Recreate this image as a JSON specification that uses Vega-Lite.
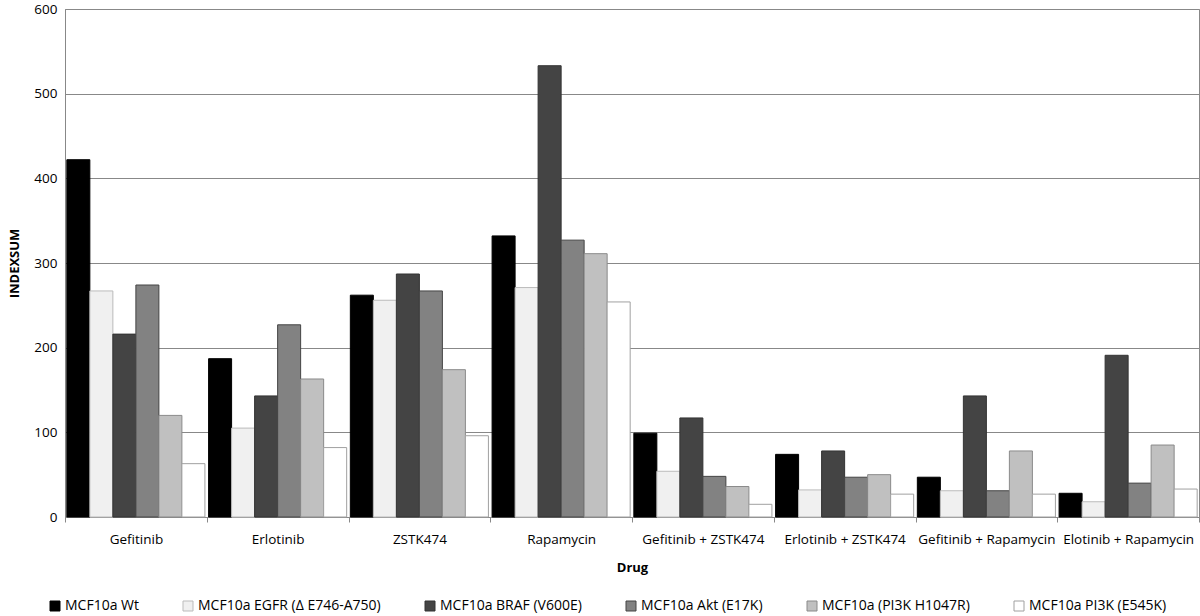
{
  "$schema": "https://vega.github.io/schema/vega-lite/v6.json",
  "width": 1134,
  "height": 508,
  "autosize": {"type": "none"},
  "padding": {"left": 65, "top": 9, "right": 1, "bottom": 99},
  "background": "white",
  "config": {
    "font": "Open Sans",
    "view": {"stroke": "#888888", "strokeWidth": 1}
  },
  "datasets": {
    "vals": [
      {"drug": "Gefitinib", "series": "MCF10a Wt", "value": 422},
      {"drug": "Gefitinib", "series": "MCF10a EGFR (Δ E746-A750)", "value": 267},
      {"drug": "Gefitinib", "series": "MCF10a BRAF (V600E)", "value": 216},
      {"drug": "Gefitinib", "series": "MCF10a Akt (E17K)", "value": 274},
      {"drug": "Gefitinib", "series": "MCF10a (PI3K H1047R)", "value": 120},
      {"drug": "Gefitinib", "series": "MCF10a PI3K (E545K)", "value": 63},
      {"drug": "Erlotinib", "series": "MCF10a Wt", "value": 187},
      {"drug": "Erlotinib", "series": "MCF10a EGFR (Δ E746-A750)", "value": 105},
      {"drug": "Erlotinib", "series": "MCF10a BRAF (V600E)", "value": 143},
      {"drug": "Erlotinib", "series": "MCF10a Akt (E17K)", "value": 227},
      {"drug": "Erlotinib", "series": "MCF10a (PI3K H1047R)", "value": 163},
      {"drug": "Erlotinib", "series": "MCF10a PI3K (E545K)", "value": 82},
      {"drug": "ZSTK474", "series": "MCF10a Wt", "value": 262},
      {"drug": "ZSTK474", "series": "MCF10a EGFR (Δ E746-A750)", "value": 256},
      {"drug": "ZSTK474", "series": "MCF10a BRAF (V600E)", "value": 287},
      {"drug": "ZSTK474", "series": "MCF10a Akt (E17K)", "value": 267},
      {"drug": "ZSTK474", "series": "MCF10a (PI3K H1047R)", "value": 174},
      {"drug": "ZSTK474", "series": "MCF10a PI3K (E545K)", "value": 96},
      {"drug": "Rapamycin", "series": "MCF10a Wt", "value": 332},
      {"drug": "Rapamycin", "series": "MCF10a EGFR (Δ E746-A750)", "value": 271},
      {"drug": "Rapamycin", "series": "MCF10a BRAF (V600E)", "value": 533},
      {"drug": "Rapamycin", "series": "MCF10a Akt (E17K)", "value": 327},
      {"drug": "Rapamycin", "series": "MCF10a (PI3K H1047R)", "value": 311},
      {"drug": "Rapamycin", "series": "MCF10a PI3K (E545K)", "value": 254},
      {"drug": "Gefitinib + ZSTK474", "series": "MCF10a Wt", "value": 99},
      {"drug": "Gefitinib + ZSTK474", "series": "MCF10a EGFR (Δ E746-A750)", "value": 54},
      {"drug": "Gefitinib + ZSTK474", "series": "MCF10a BRAF (V600E)", "value": 117},
      {"drug": "Gefitinib + ZSTK474", "series": "MCF10a Akt (E17K)", "value": 48},
      {"drug": "Gefitinib + ZSTK474", "series": "MCF10a (PI3K H1047R)", "value": 36},
      {"drug": "Gefitinib + ZSTK474", "series": "MCF10a PI3K (E545K)", "value": 15},
      {"drug": "Erlotinib + ZSTK474", "series": "MCF10a Wt", "value": 74},
      {"drug": "Erlotinib + ZSTK474", "series": "MCF10a EGFR (Δ E746-A750)", "value": 32},
      {"drug": "Erlotinib + ZSTK474", "series": "MCF10a BRAF (V600E)", "value": 78},
      {"drug": "Erlotinib + ZSTK474", "series": "MCF10a Akt (E17K)", "value": 47},
      {"drug": "Erlotinib + ZSTK474", "series": "MCF10a (PI3K H1047R)", "value": 50},
      {"drug": "Erlotinib + ZSTK474", "series": "MCF10a PI3K (E545K)", "value": 27},
      {"drug": "Gefitinib + Rapamycin", "series": "MCF10a Wt", "value": 47},
      {"drug": "Gefitinib + Rapamycin", "series": "MCF10a EGFR (Δ E746-A750)", "value": 31},
      {"drug": "Gefitinib + Rapamycin", "series": "MCF10a BRAF (V600E)", "value": 143},
      {"drug": "Gefitinib + Rapamycin", "series": "MCF10a Akt (E17K)", "value": 31},
      {"drug": "Gefitinib + Rapamycin", "series": "MCF10a (PI3K H1047R)", "value": 78},
      {"drug": "Gefitinib + Rapamycin", "series": "MCF10a PI3K (E545K)", "value": 27},
      {"drug": "Elotinib + Rapamycin", "series": "MCF10a Wt", "value": 28},
      {"drug": "Elotinib + Rapamycin", "series": "MCF10a EGFR (Δ E746-A750)", "value": 18},
      {"drug": "Elotinib + Rapamycin", "series": "MCF10a BRAF (V600E)", "value": 191},
      {"drug": "Elotinib + Rapamycin", "series": "MCF10a Akt (E17K)", "value": 40},
      {"drug": "Elotinib + Rapamycin", "series": "MCF10a (PI3K H1047R)", "value": 85},
      {"drug": "Elotinib + Rapamycin", "series": "MCF10a PI3K (E545K)", "value": 33}
    ]
  },
  "data": {"name": "vals"},
  "mark": {"type": "bar", "strokeWidth": 1},
  "encoding": {
    "x": {
      "field": "drug",
      "type": "nominal",
      "sort": ["Gefitinib", "Erlotinib", "ZSTK474", "Rapamycin", "Gefitinib + ZSTK474", "Erlotinib + ZSTK474", "Gefitinib + Rapamycin", "Elotinib + Rapamycin"],
      "scale": {"paddingInner": 0, "paddingOuter": 0},
      "title": "Drug",
      "axis": {
        "labelAngle": 0,
        "tickBand": "extent",
        "labelAlign": "center",
        "labelFontSize": 13.5,
        "labelColor": "#000000",
        "labelPadding": 10,
        "tickColor": "#888888",
        "tickSize": 5,
        "domainColor": "#888888",
        "titleFontSize": 13,
        "titleFontWeight": "bold",
        "titleColor": "#000000",
        "titlePadding": 16
      }
    },
    "xOffset": {
      "field": "series",
      "type": "nominal",
      "sort": ["MCF10a Wt", "MCF10a EGFR (Δ E746-A750)", "MCF10a BRAF (V600E)", "MCF10a Akt (E17K)", "MCF10a (PI3K H1047R)", "MCF10a PI3K (E545K)"],
      "scale": {"paddingInner": 0, "paddingOuter": 0.08}
    },
    "y": {
      "field": "value",
      "type": "quantitative",
      "scale": {"domain": [0, 600], "nice": false},
      "title": "INDEXSUM",
      "axis": {
        "values": [0, 100, 200, 300, 400, 500, 600],
        "grid": true,
        "gridColor": "#888888",
        "gridWidth": 1,
        "domainColor": "#888888",
        "ticks": false,
        "labelFontSize": 13.5,
        "labelColor": "#000000",
        "labelPadding": 8,
        "titleFontSize": 13,
        "titleFontWeight": "bold",
        "titleColor": "#000000",
        "titlePadding": 12
      }
    },
    "fill": {
      "field": "series",
      "type": "nominal",
      "sort": ["MCF10a Wt", "MCF10a EGFR (Δ E746-A750)", "MCF10a BRAF (V600E)", "MCF10a Akt (E17K)", "MCF10a (PI3K H1047R)", "MCF10a PI3K (E545K)"],
      "scale": {
        "domain": ["MCF10a Wt", "MCF10a EGFR (Δ E746-A750)", "MCF10a BRAF (V600E)", "MCF10a Akt (E17K)", "MCF10a (PI3K H1047R)", "MCF10a PI3K (E545K)"],
        "range": ["#000000", "#f0f0f0", "#444444", "#828282", "#c0c0c0", "#ffffff"]
      },
      "legend": {
        "title": null,
        "orient": "none",
        "direction": "horizontal",
        "legendX": -17,
        "legendY": 590,
        "symbolType": "square",
        "symbolSize": 100,
        "symbolStrokeWidth": 1,
        "labelFontSize": 14,
        "labelColor": "#000000",
        "labelOffset": 3,
        "labelLimit": 400,
        "columnPadding": 42
      }
    },
    "stroke": {
      "field": "series",
      "type": "nominal",
      "scale": {
        "domain": ["MCF10a Wt", "MCF10a EGFR (Δ E746-A750)", "MCF10a BRAF (V600E)", "MCF10a Akt (E17K)", "MCF10a (PI3K H1047R)", "MCF10a PI3K (E545K)"],
        "range": ["#000000", "#bbbbbb", "#333333", "#444444", "#8a8a8a", "#a0a0a0"]
      },
      "legend": null
    }
  }
}
